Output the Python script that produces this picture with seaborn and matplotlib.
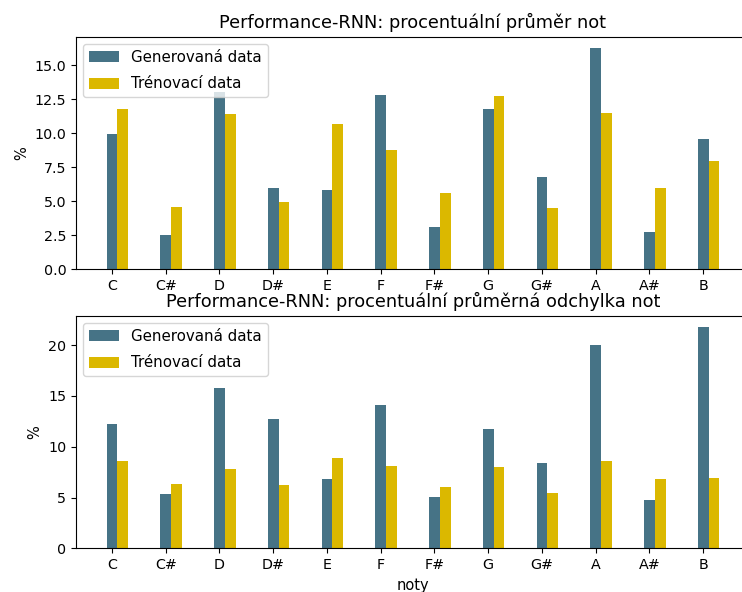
import matplotlib
matplotlib.use("Agg")
import matplotlib.pyplot as plt
import pandas as pd
import seaborn as sns

notes = ["C", "C#", "D", "D#", "E", "F", "F#", "G", "G#", "A", "A#", "B"]
series_names = ["Generovaná data", "Trénovací data"]

mean_generated = [9.90, 2.50, 13.04, 5.93, 5.78, 12.77, 3.06, 11.74, 6.79, 16.27, 2.75, 9.58]
mean_training = [11.74, 4.53, 11.37, 4.93, 10.66, 8.73, 5.61, 12.70, 4.46, 11.47, 5.93, 7.94]

std_generated = [12.19, 5.30, 15.75, 12.72, 6.85, 14.07, 5.07, 11.70, 8.43, 20.03, 4.78, 21.81]
std_training = [8.63, 6.36, 7.81, 6.26, 8.86, 8.14, 6.03, 8.01, 5.40, 8.63, 6.85, 6.95]

colors = ["#467386", "#DBB800"]


def long_table(gen, train):
    return pd.DataFrame({
        "nota": notes * 2,
        "hodnota": gen + train,
        "data": [series_names[0]] * len(notes) + [series_names[1]] * len(notes),
    })


def draw(ax, table, title, xlabel):
    sns.barplot(data=table, x="nota", y="hodnota", hue="data", order=notes,
                hue_order=series_names, palette=colors, saturation=1,
                width=0.4, errorbar=None, linewidth=0, ax=ax)
    # ticks sit under the centre of the first bar in each pair
    n = len(notes)
    ax.set_xticks([i - 0.1 for i in range(n)])
    ax.set_xticklabels(notes)
    ax.set_xlim(-0.77, n - 1 + 0.77)
    ax.tick_params(labelsize=10.3)
    ax.set_title(title, fontsize=12.8)
    ax.set_ylabel("%", fontsize=10.5)
    ax.set_xlabel(xlabel, fontsize=10.5)
    handles, labels = ax.get_legend_handles_labels()
    ax.legend(handles, labels, loc="upper left", fontsize=10.8,
              labelspacing=0.75, handleheight=0.75)


fig = plt.figure(figsize=(7.42, 5.92), dpi=100)
ax_top = fig.add_axes([0.1024, 0.5456, 0.9084, 0.3924])
ax_bottom = fig.add_axes([0.1024, 0.0738, 0.9084, 0.3929])

draw(ax_top, long_table(mean_generated, mean_training),
     "Performance-RNN: procentuální průměr not", "")
draw(ax_bottom, long_table(std_generated, std_training),
     "Performance-RNN: procentuální průměrná odchylka not", "noty")

fig.savefig("out.png", dpi=100)
